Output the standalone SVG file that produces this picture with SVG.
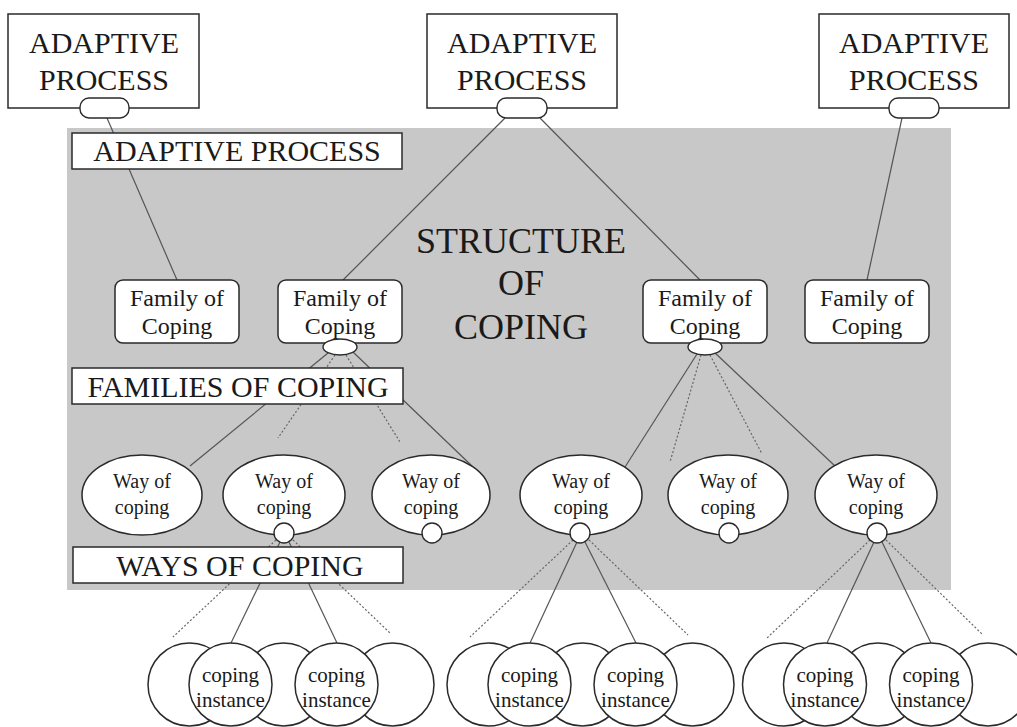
<svg xmlns="http://www.w3.org/2000/svg" width="1017" height="727" viewBox="0 0 1017 727">
<style>
  text { font-family: "Liberation Serif", "Times New Roman", serif; fill: #1a1a1a; text-anchor: middle; }
  .big { font-size: 30px; }
  .fam { font-size: 24px; }
  .way { font-size: 20px; }
  .inst { font-size: 21px; }
  .title { font-size: 36px; }
  .box { fill: #ffffff; stroke: #2a2a2a; stroke-width: 1.5; }
  .pill { fill: #ffffff; stroke: #2a2a2a; stroke-width: 1.4; }
  .c { stroke: #555555; stroke-width: 1.2; fill: none; }
  .d { stroke: #666666; stroke-width: 1.2; fill: none; stroke-dasharray: 2 2; }
</style>
<rect width="1017" height="727" fill="#ffffff"/>
<rect id="structure-area" x="67" y="128" width="884" height="462" fill="#c8c8c8"/>

<g id="connectors">
  <!-- adaptive process to families -->
  <line class="c" x1="107" y1="118" x2="177" y2="280"/>
  <line class="c" x1="505" y1="118" x2="343" y2="280"/>
  <line class="c" x1="540" y1="118" x2="700" y2="280"/>
  <line class="c" x1="902" y1="118" x2="867" y2="280"/>
  <!-- family 2 to ways -->
  <line class="c" x1="328" y1="353" x2="190" y2="466"/>
  <line class="d" x1="335" y1="355" x2="278" y2="438"/>
  <line class="d" x1="346" y1="355" x2="400" y2="442"/>
  <line class="c" x1="353" y1="352" x2="472" y2="466"/>
  <!-- family 3 to ways -->
  <line class="c" x1="697" y1="354" x2="625" y2="467"/>
  <line class="d" x1="701" y1="355" x2="670" y2="462"/>
  <line class="d" x1="710" y1="355" x2="762" y2="454"/>
  <line class="c" x1="714" y1="352" x2="835" y2="466"/>
  <!-- way 2 to instances -->
  <line class="d" x1="276" y1="540" x2="173" y2="637"/>
  <line class="c" x1="280" y1="542" x2="231" y2="643"/>
  <line class="c" x1="289" y1="542" x2="337" y2="643"/>
  <line class="d" x1="293" y1="540" x2="390" y2="633"/>
  <!-- way 4 to instances -->
  <line class="d" x1="573" y1="540" x2="470" y2="637"/>
  <line class="c" x1="577" y1="542" x2="530" y2="643"/>
  <line class="c" x1="585" y1="542" x2="636" y2="643"/>
  <line class="d" x1="589" y1="540" x2="688" y2="635"/>
  <!-- way 6 to instances -->
  <line class="d" x1="870" y1="540" x2="767" y2="638"/>
  <line class="c" x1="874" y1="542" x2="827" y2="643"/>
  <line class="c" x1="882" y1="542" x2="931" y2="643"/>
  <line class="d" x1="886" y1="540" x2="983" y2="635"/>
</g>

<!-- level labels -->
<g id="label-adaptive-process">
  <rect class="box" x="72" y="133" width="330" height="36"/>
  <text class="big" x="237" y="161">ADAPTIVE PROCESS</text>
</g>
<g id="label-families">
  <rect class="box" x="72" y="368" width="331" height="36"/>
  <text class="big" x="238" y="397">FAMILIES OF COPING</text>
</g>
<g id="label-ways">
  <rect class="box" x="73" y="547" width="330" height="36"/>
  <text class="big" x="240" y="576">WAYS OF COPING</text>
</g>

<g id="title">
  <text class="title" x="521" y="253">STRUCTURE</text>
  <text class="title" x="521" y="295">OF</text>
  <text class="title" x="521" y="339">COPING</text>
</g>

<!-- adaptive processes -->
<g id="adaptive-process-1">
  <rect class="box" x="8" y="14" width="191" height="94"/>
  <text class="big" x="104" y="53">ADAPTIVE</text>
  <text class="big" x="104" y="90">PROCESS</text>
  <rect class="pill" x="80" y="98" width="49" height="20" rx="9"/>
</g>
<g id="adaptive-process-2">
  <rect class="box" x="427" y="14" width="190" height="94"/>
  <text class="big" x="522" y="53">ADAPTIVE</text>
  <text class="big" x="522" y="90">PROCESS</text>
  <rect class="pill" x="497" y="98" width="50" height="20" rx="9"/>
</g>
<g id="adaptive-process-3">
  <rect class="box" x="819" y="14" width="190" height="94"/>
  <text class="big" x="914" y="53">ADAPTIVE</text>
  <text class="big" x="914" y="90">PROCESS</text>
  <rect class="pill" x="889" y="98" width="50" height="20" rx="9"/>
</g>

<!-- families -->
<g id="family-1">
  <rect class="box" x="115" y="280" width="124" height="63" rx="8"/>
  <text class="fam" x="177" y="306">Family of</text>
  <text class="fam" x="177" y="334">Coping</text>
</g>
<g id="family-2">
  <rect class="box" x="278" y="280" width="124" height="63" rx="8"/>
  <text class="fam" x="340" y="306">Family of</text>
  <text class="fam" x="340" y="334">Coping</text>
  <ellipse class="pill" cx="340" cy="347" rx="17" ry="8"/>
</g>
<g id="family-3">
  <rect class="box" x="643" y="280" width="124" height="63" rx="8"/>
  <text class="fam" x="705" y="306">Family of</text>
  <text class="fam" x="705" y="334">Coping</text>
  <ellipse class="pill" cx="705" cy="347" rx="17" ry="8"/>
</g>
<g id="family-4">
  <rect class="box" x="805" y="280" width="124" height="63" rx="8"/>
  <text class="fam" x="867" y="306">Family of</text>
  <text class="fam" x="867" y="334">Coping</text>
</g>

<!-- ways of coping -->
<g id="way-1">
  <ellipse class="box" cx="142" cy="495" rx="60" ry="40"/>
  <text class="way" x="142" y="488">Way of</text>
  <text class="way" x="142" y="514">coping</text>
</g>
<g id="way-2">
  <ellipse class="box" cx="284" cy="495" rx="61" ry="40"/>
  <text class="way" x="284" y="488">Way of</text>
  <text class="way" x="284" y="514">coping</text>
  <circle class="pill" cx="284" cy="533" r="10"/>
</g>
<g id="way-3">
  <ellipse class="box" cx="431" cy="495" rx="59" ry="40"/>
  <text class="way" x="431" y="488">Way of</text>
  <text class="way" x="431" y="514">coping</text>
  <circle class="pill" cx="432" cy="533" r="10"/>
</g>
<g id="way-4">
  <ellipse class="box" cx="581" cy="495" rx="61" ry="40"/>
  <text class="way" x="581" y="488">Way of</text>
  <text class="way" x="581" y="514">coping</text>
  <circle class="pill" cx="580" cy="533" r="10"/>
</g>
<g id="way-5">
  <ellipse class="box" cx="728" cy="495" rx="60" ry="40"/>
  <text class="way" x="728" y="488">Way of</text>
  <text class="way" x="728" y="514">coping</text>
  <circle class="pill" cx="729" cy="533" r="10"/>
</g>
<g id="way-6">
  <ellipse class="box" cx="876" cy="495" rx="61" ry="40"/>
  <text class="way" x="876" y="488">Way of</text>
  <text class="way" x="876" y="514">coping</text>
  <circle class="pill" cx="877" cy="533" r="10"/>
</g>

<!-- coping instances -->
<g id="instances-1">
  <circle class="box" cx="189.5" cy="684.5" r="41.5"/>
  <circle class="box" cx="283.5" cy="684.5" r="41.5"/>
  <circle class="box" cx="392.5" cy="684.5" r="41.5"/>
  <circle class="box" cx="230.5" cy="684.5" r="41.5"/>
  <circle class="box" cx="336.5" cy="684.5" r="41.5"/>
  <text class="inst" x="230.5" y="682">coping</text>
  <text class="inst" x="230.5" y="707">instance</text>
  <text class="inst" x="336.5" y="682">coping</text>
  <text class="inst" x="336.5" y="707">instance</text>
</g>
<g id="instances-2">
  <circle class="box" cx="488.5" cy="684.5" r="41.5"/>
  <circle class="box" cx="582.5" cy="684.5" r="41.5"/>
  <circle class="box" cx="692.5" cy="684.5" r="41.5"/>
  <circle class="box" cx="529.5" cy="684.5" r="41.5"/>
  <circle class="box" cx="635.5" cy="684.5" r="41.5"/>
  <text class="inst" x="529.5" y="682">coping</text>
  <text class="inst" x="529.5" y="707">instance</text>
  <text class="inst" x="635.5" y="682">coping</text>
  <text class="inst" x="635.5" y="707">instance</text>
</g>
<g id="instances-3">
  <circle class="box" cx="784" cy="684.5" r="41.5"/>
  <circle class="box" cx="878" cy="684.5" r="41.5"/>
  <circle class="box" cx="988" cy="684.5" r="41.5"/>
  <circle class="box" cx="825" cy="684.5" r="41.5"/>
  <circle class="box" cx="931" cy="684.5" r="41.5"/>
  <text class="inst" x="825" y="682">coping</text>
  <text class="inst" x="825" y="707">instance</text>
  <text class="inst" x="931" y="682">coping</text>
  <text class="inst" x="931" y="707">instance</text>
</g>
</svg>
